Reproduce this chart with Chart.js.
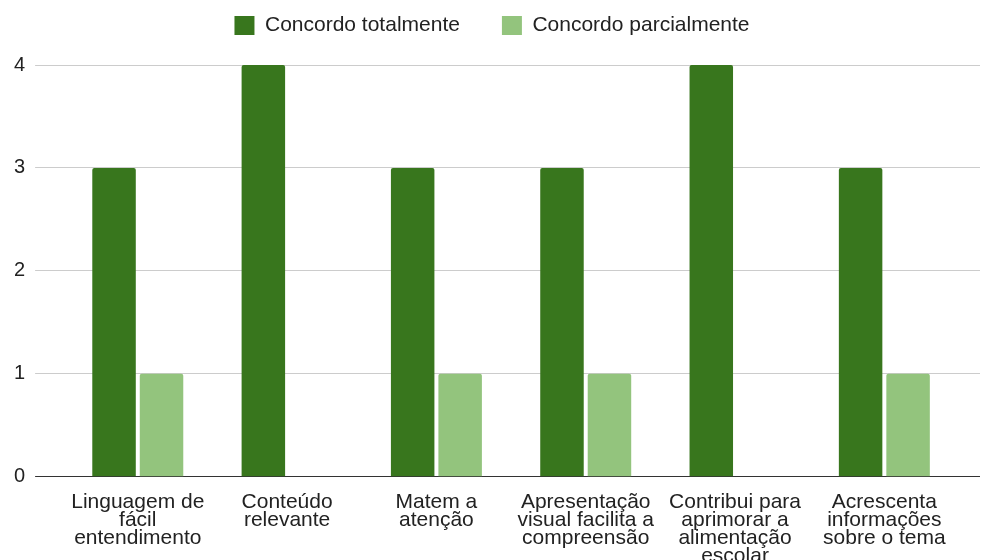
<!DOCTYPE html>
<html>
<head>
<meta charset="utf-8">
<script src="https://cdn.jsdelivr.net/npm/chart.js@4/dist/chart.umd.min.js"></script>
<style>
  html, body { margin: 0; padding: 0; background: #fff; }
  #wrap { width: 981px; height: 560px; position: relative; }
</style>
</head>
<body>
<div id="wrap"><canvas id="surveyChart"></canvas></div>
<script>
const categories = [
  ['Linguagem de', 'fácil', 'entendimento'],
  ['Conteúdo', 'relevante'],
  ['Matem a', 'atenção'],
  ['Apresentação', 'visual facilita a', 'compreensão'],
  ['Contribui para', 'aprimorar a', 'alimentação', 'escolar'],
  ['Acrescenta', 'informações', 'sobre o tema']
];
const totalmente = [3, 4, 3, 3, 4, 3];
const parcialmente = [1, 0, 1, 1, 0, 1];
const yTicks = [0, 1, 2, 3, 4];

const font = "'Liberation Sans', Arial, sans-serif";
const textColor = '#222222';
const gridColor = ctx => (ctx.tick && ctx.tick.value === 0) ? '#333333' : '#cccccc';

// extra room between legend and plot
const legendGap = {
  id: 'legendGap',
  afterInit(chart) {
    const fit = chart.legend.fit;
    chart.legend.fit = function () {
      fit.call(this);
      this.height += 19;
    };
  }
};

new Chart(document.getElementById('surveyChart'), {
  type: 'bar',
  data: {
    labels: categories,
    datasets: [{
      label: 'Concordo totalmente',
      data: totalmente,
      backgroundColor: '#38761d',
      borderRadius: 2,
      categoryPercentage: 0.636,
      barPercentage: 0.916
    }, {
      label: 'Concordo parcialmente',
      data: parcialmente,
      backgroundColor: '#93c47d',
      borderRadius: 2,
      categoryPercentage: 0.636,
      barPercentage: 0.916
    }]
  },
  options: {
    responsive: true,
    maintainAspectRatio: false,
    animation: false,
    layout: { padding: { left: 4, right: 1, top: -27, bottom: -13 } },
    plugins: {
      tooltip: { enabled: false },
      legend: {
        position: 'top',
        labels: {
          color: textColor,
          font: { family: font, size: 21 },
          boxWidth: 20,
          boxHeight: 19,
          padding: 42
        }
      }
    },
    scales: {
      x: {
        grid: { display: false },
        border: { display: false },
        ticks: {
          color: textColor,
          font: { family: font, size: 21, lineHeight: 0.86 },
          padding: 8,
          maxRotation: 0,
          autoSkip: false
        }
      },
      y: {
        min: 0,
        max: 4,
        afterBuildTicks: axis => { axis.ticks = yTicks.map(v => ({ value: v })); },
        grid: { color: gridColor, tickLength: 28 },
        border: { display: false },
        ticks: {
          color: textColor,
          font: { family: font, size: 20 },
          padding: 10
        }
      },
      y2: {
        position: 'right',
        min: 0,
        max: 4,
        afterBuildTicks: axis => { axis.ticks = yTicks.map(v => ({ value: v })); },
        grid: { color: gridColor, tickLength: 21, drawOnChartArea: false },
        border: { display: false },
        ticks: { display: false }
      }
    }
  },
  plugins: [legendGap]
});
</script>
</body>
</html>
